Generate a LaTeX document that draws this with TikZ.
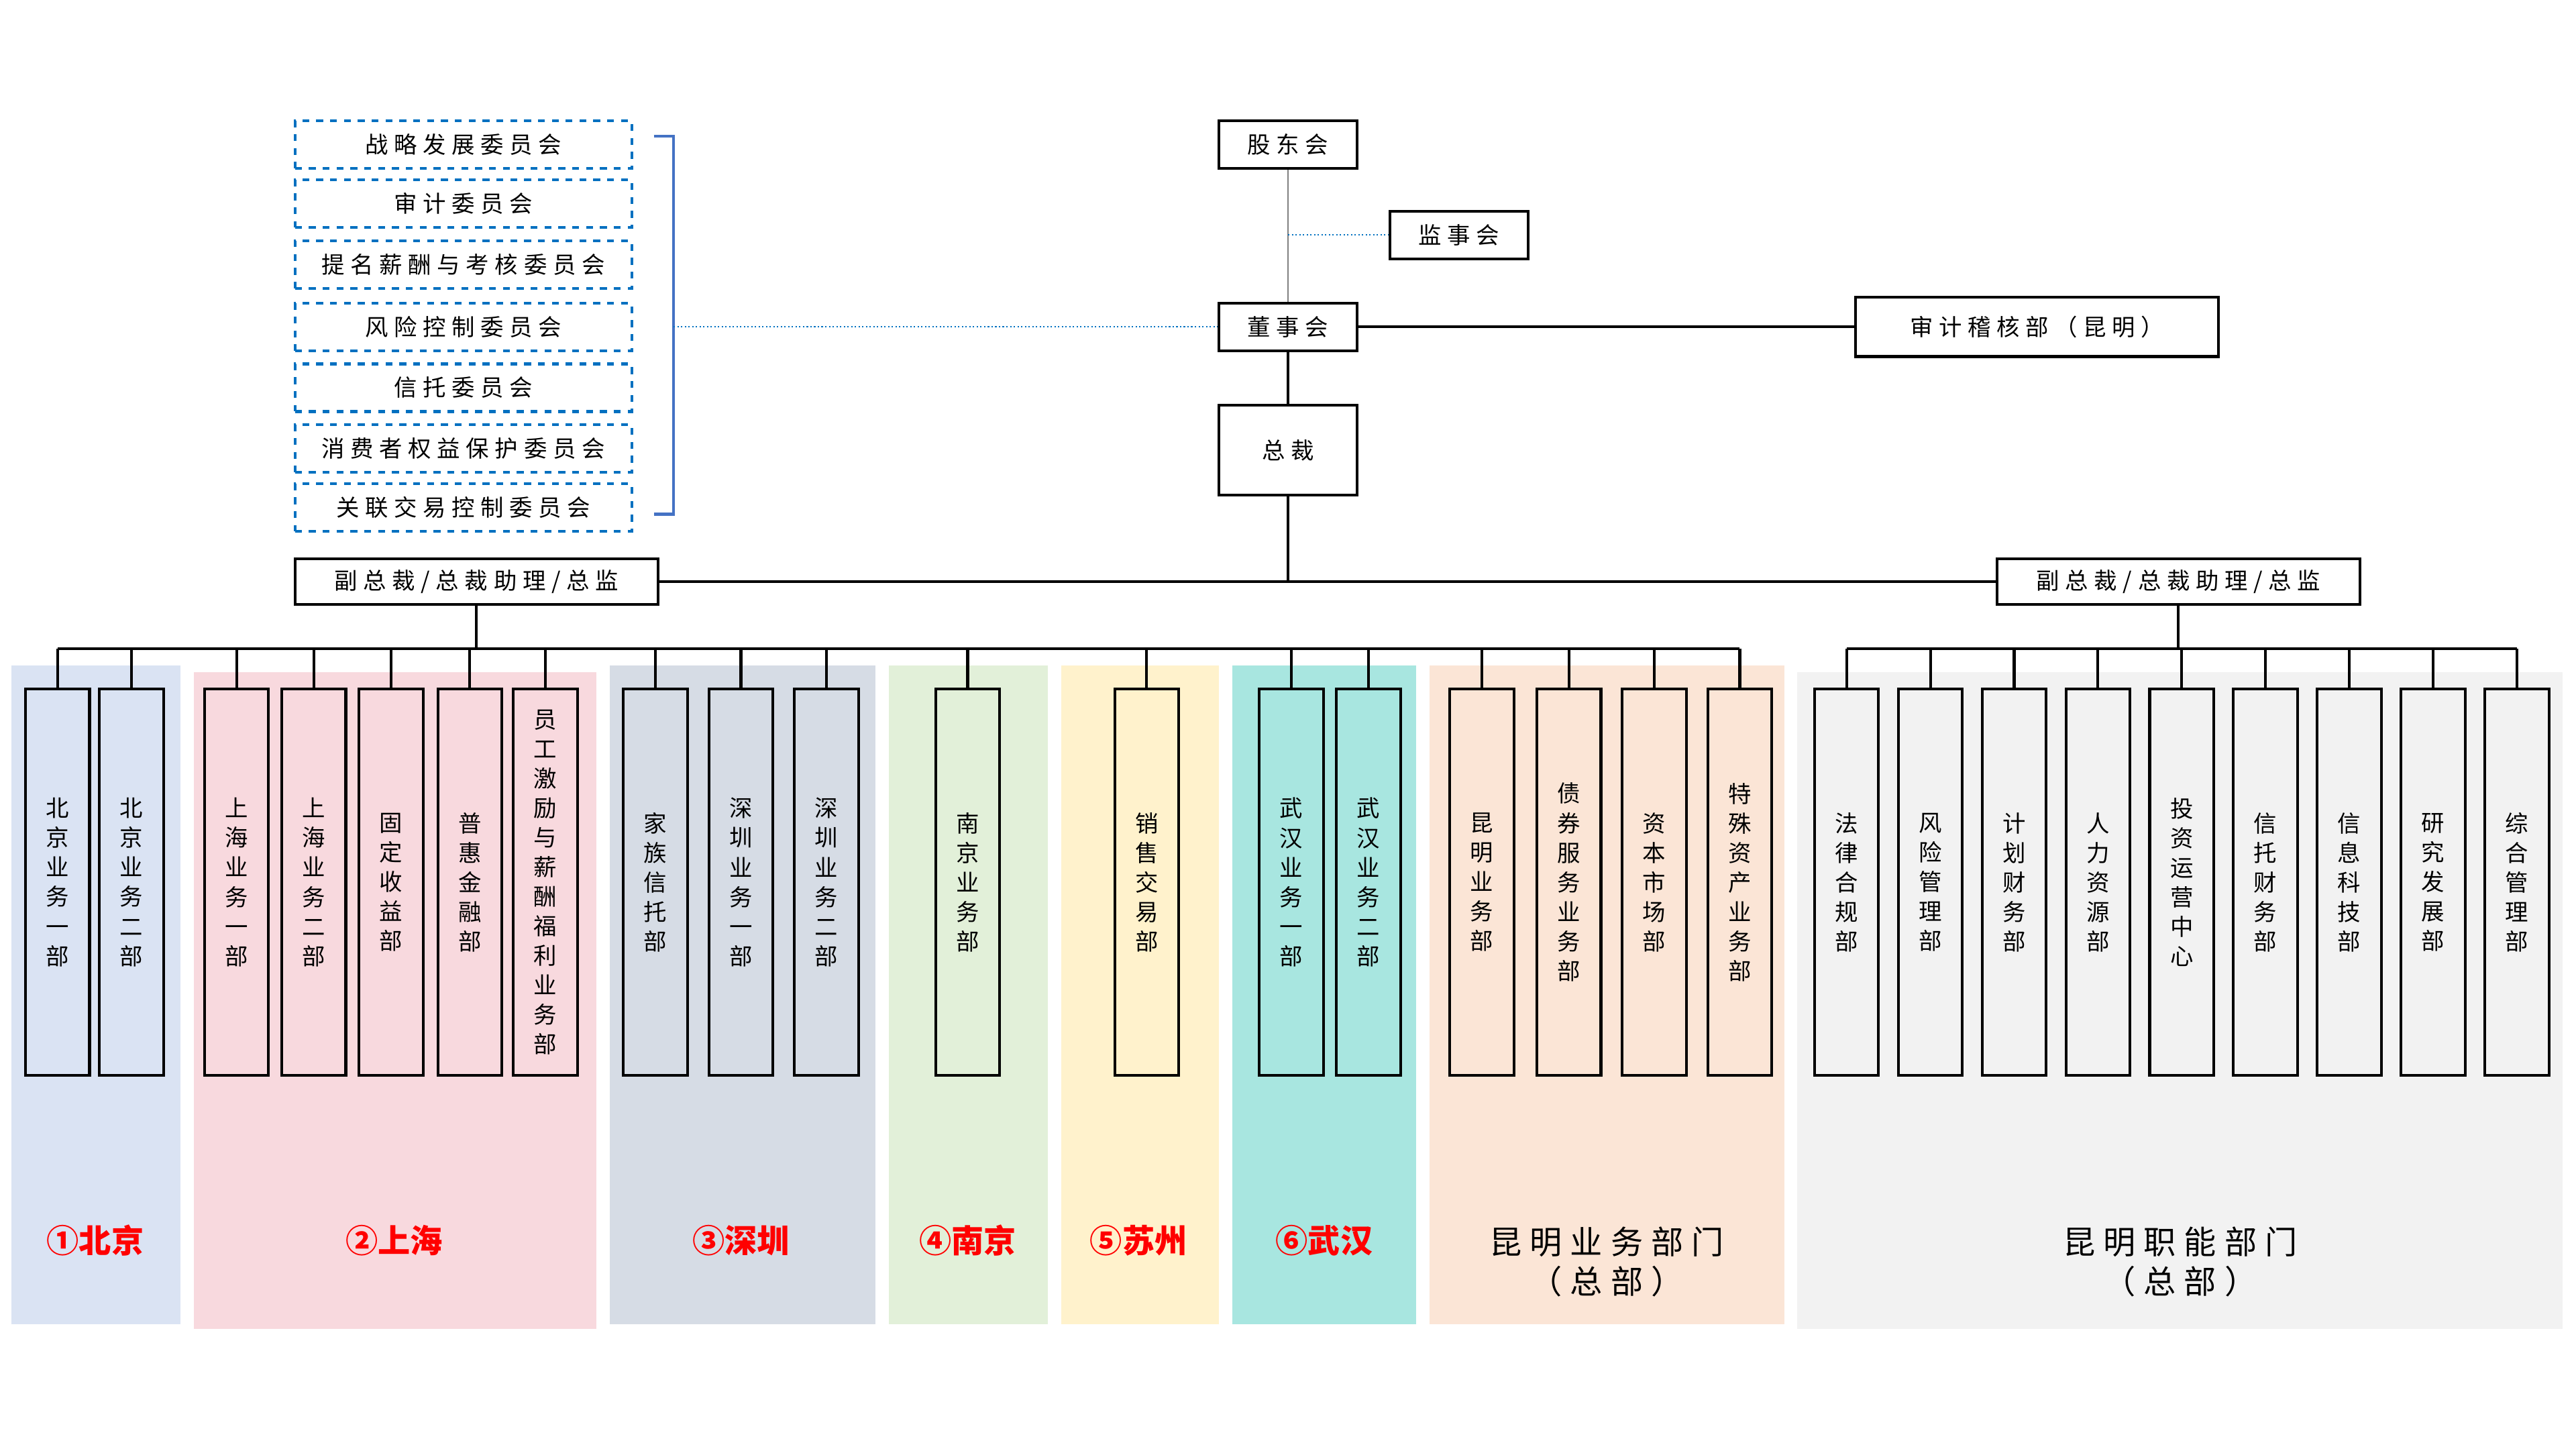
\documentclass[tikz,border=0pt]{standalone}
\usepackage{fontspec}
\setmainfont{Noto Sans CJK SC}
\newfontfamily\cjk[LetterSpace=25]{Noto Sans CJK SC}
\usetikzlibrary{positioning}
\definecolor{cblue}{RGB}{0,112,192}
\definecolor{brk}{RGB}{68,114,196}
\definecolor{bgbj}{RGB}{218,227,243}
\definecolor{bgsh}{RGB}{248,217,222}
\definecolor{bgsz}{RGB}{214,220,229}
\definecolor{bgnj}{RGB}{226,240,217}
\definecolor{bgsu}{RGB}{255,242,204}
\definecolor{bgwh}{RGB}{168,230,224}
\definecolor{bgkb}{RGB}{251,229,214}
\definecolor{bgkf}{RGB}{242,242,242}
\tikzset{
 comm/.style={draw=cblue,dashed,line width=1.2pt,minimum width=0.025cm*205,minimum height=0.025cm*29,font=\cjk\fontsize{10}{12}\selectfont,inner sep=0pt},
 top/.style={draw,line width=1.2pt,minimum width=0.025cm*84,minimum height=0.025cm*29,font=\cjk\fontsize{10}{12}\selectfont,inner sep=0pt},
 dept/.style={draw,line width=1.2pt,minimum width=0.025cm*39,minimum height=0.025cm*235,align=center,font=\fontsize{10}{12.8}\selectfont,inner sep=0pt},
 conn/.style={line width=1.2pt},
 city/.style={text=red,font=\fontsize{14}{16}\selectfont\bfseries},
 kmlab/.style={font=\cjk\fontsize{14}{17}\selectfont,align=center},
}
\begin{document}
\begin{tikzpicture}[x=0.025cm,y=-0.025cm]
\useasboundingbox (0,0) rectangle (1568,882);
% backgrounds
\fill[bgbj] (7,405) rectangle (110,806);
\fill[bgsh] (118,409) rectangle (363,809);
\fill[bgsz] (371,405) rectangle (533,806);
\fill[bgnj] (541,405) rectangle (638,806);
\fill[bgsu] (646,405) rectangle (742,806);
\fill[bgwh] (750,405) rectangle (862,806);
\fill[bgkb] (870,405) rectangle (1086,806);
\fill[bgkf] (1094,409) rectangle (1560,809);
% committees
\node[comm] (c1) at (282,88) {战略发展委员会};
\node[comm] (c2) at (282,124) {审计委员会};
\node[comm] (c3) at (282,161) {提名薪酬与考核委员会};
\node[comm] (c4) at (282,199) {风险控制委员会};
\node[comm] (c5) at (282,236) {信托委员会};
\node[comm] (c6) at (282,273) {消费者权益保护委员会};
\node[comm] (c7) at (282,309) {关联交易控制委员会};
\coordinate (bt) at (398,83);
\coordinate (bb) at (398,313);
\coordinate (bm) at (410,199);
\draw[brk,line width=1.2pt] (bt) -- (410,83) -- (410,313) -- (bb);
% top
\node[top] (gd) at (784,88) {股东会};
\node[top] (js) at (888,143) {监事会};
\node[top] (ds) at (784,199) {董事会};
\node[top,minimum width=0.025cm*221,minimum height=0.025cm*36] (sj) at (1240,199) {审计稽核部（昆明）};
\node[top,minimum height=0.025cm*55] (zc) at (784,274) {总裁};
\node[top,minimum width=0.025cm*221,minimum height=0.025cm*28] (vl) at (290,354) {副总裁/总裁助理/总监};
\node[top,minimum width=0.025cm*221,minimum height=0.025cm*28] (vr) at (1326,354) {副总裁/总裁助理/总监};
\coordinate (jm) at (784,143);
\draw[gray,line width=0.6pt] (gd) -- (ds);
\draw[cblue,densely dotted,line width=0.6pt] (jm) -- (js);
\draw[cblue,densely dotted,line width=0.6pt] (bm) -- (ds);
\draw[conn] (ds) -- (sj);
\draw[conn] (ds) -- (zc);
\coordinate (hz) at (784,354);
\draw[conn] (zc) -- (hz);
\draw[conn] (vl) -- (vr);
% departments
\foreach \n/\x/\t in {
 b1/35/北\\京\\业\\务\\一\\部, b2/80/北\\京\\业\\务\\二\\部,
 s1/144/上\\海\\业\\务\\一\\部, s2/191/上\\海\\业\\务\\二\\部,
 s3/238/固\\定\\收\\益\\部, s4/286/普\\惠\\金\\融\\部,
 s5/332/员\\工\\激\\励\\与\\薪\\酬\\福\\利\\业\\务\\部,
 z1/399/家\\族\\信\\托\\部, z2/451/深\\圳\\业\\务\\一\\部, z3/503/深\\圳\\业\\务\\二\\部,
 n1/589/南\\京\\业\\务\\部, u1/698/销\\售\\交\\易\\部,
 w1/786/武\\汉\\业\\务\\一\\部, w2/833/武\\汉\\业\\务\\二\\部,
 k1/902/昆\\明\\业\\务\\部, k2/955/债\\券\\服\\务\\业\\务\\部, k3/1007/资\\本\\市\\场\\部, k4/1059/特\\殊\\资\\产\\业\\务\\部}
 {\node[dept] (\n) at (\x,537) {\t};
  \coordinate (t\n) at (\x,395);
  \draw[conn] (t\n) -- (\n.north);}
\foreach \n/\x/\t in {
 f1/1124/法\\律\\合\\规\\部, f2/1175/风\\险\\管\\理\\部, f3/1226/计\\划\\财\\务\\部,
 f4/1277/人\\力\\资\\源\\部, f5/1328/投\\资\\运\\营\\中\\心, f6/1379/信\\托\\财\\务\\部,
 f7/1430/信\\息\\科\\技\\部, f8/1481/研\\究\\发\\展\\部, f9/1532/综\\合\\管\\理\\部}
 {\node[dept] (\n) at (\x,537) {\t};
  \coordinate (t\n) at (\x,395);
  \draw[conn] (t\n) -- (\n.north);}
\coordinate (lb) at (290,395);
\coordinate (rb) at (1326,395);
\draw[conn] (vl) -- (lb);
\draw[conn] (vr) -- (rb);
\draw[conn] (tb1) -- (tk4);
\draw[conn] (tf1) -- (tf9);
% labels
\node[city] (l1) at (58,755) {①北京};
\node[city] (l2) at (240,755) {②上海};
\node[city] (l3) at (451,755) {③深圳};
\node[city] (l4) at (589,755) {④南京};
\node[city] (l5) at (693,755) {⑤苏州};
\node[city] (l6) at (806,755) {⑥武汉};
\node[kmlab] (l7) at (978,768) {昆明业务部门\\（总部）};
\node[kmlab] (l8) at (1327,768) {昆明职能部门\\（总部）};
\end{tikzpicture}
\end{document}
